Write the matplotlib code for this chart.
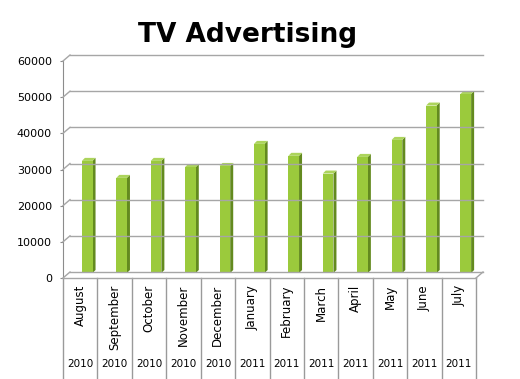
import numpy as np
import matplotlib
matplotlib.use("Agg")
import matplotlib.pyplot as plt
from matplotlib.patches import Polygon
from matplotlib.transforms import IdentityTransform

months = ["August", "September", "October", "November", "December", "January",
          "February", "March", "April", "May", "June", "July"]
years = ["2010", "2010", "2010", "2010", "2010", "2011",
         "2011", "2011", "2011", "2011", "2011", "2011"]
spend = [31000, 26300, 31000, 29300, 29600, 35700,
         32400, 27500, 32100, 36800, 46300, 49500]
yticks = [0, 10000, 20000, 30000, 40000, 50000, 60000]

W, H = 520, 379
fig = plt.figure(figsize=(W / 100, H / 100), dpi=100, facecolor="white")
ax = fig.add_axes([63 / W, (H - 278) / H, (476 - 63) / W, (278 - 61) / H])
ax.set_xlim(0, len(months))
ax.set_ylim(0, 60000)
ax.set_facecolor("none")
for s in ["top", "right", "bottom"]:
    ax.spines[s].set_visible(False)
ax.spines["left"].set_color("#8c8c8c")
ax.set_xticks([])
ax.set_yticks(yticks)
ax.set_yticklabels([str(v) for v in yticks], fontsize=8, family="DejaVu Sans")
ax.tick_params(axis="y", length=2.5, color="#8c8c8c", pad=5.5)

fig.canvas.draw()
T = ax.transData.transform
grid_c = "#a6a6a6"
back = np.array([7, 6])  # depth of the back wall, in pixels


def disp_poly(pts, **kw):
    p = Polygon(pts, closed=True, transform=IdentityTransform(), **kw)
    fig.add_artist(p)


def disp_line(p0, p1, **kw):
    fig.add_artist(plt.Line2D([p0[0], p1[0]], [p0[1], p1[1]],
                              transform=IdentityTransform(), **kw))


n = len(months)
# back wall gridlines + left wall diagonals
for v in yticks:
    a = T((0, v))
    b = T((n, v))
    disp_line(a, a + back, color=grid_c, lw=1)
    disp_line(a + back, b + back, color=grid_c, lw=1)
# floor
f0, f1 = T((0, 0)), T((n, 0))
disp_line(f0, f1, color=grid_c, lw=1)
disp_line(f1, f1 + back, color=grid_c, lw=1)

# bars (3D look)
bw = 0.31
off = np.array([7, 5])
side = np.array([3, 3])
for i, v in enumerate(spend):
    x0, x1 = i + 0.5 - bw / 2, i + 0.5 + bw / 2
    bl, br = T((x0, 0)) + off, T((x1, 0)) + off
    tl, tr = T((x0, v)) + off, T((x1, v)) + off
    disp_poly([br, tr, tr + side, br + side], facecolor="#638a1f", edgecolor="none")
    disp_poly([tl, tr, tr + side, tl + side], facecolor="#acd45c", edgecolor="none")
    disp_poly([bl, br, tr, tl], facecolor="#9bca3c", edgecolor="none")

# category boxes below the floor
xt = ax.get_xaxis_transform()
bottom = -(379 - 278) / (278 - 61)
for k in range(n + 1):
    ax.plot([k, k], [0, bottom], transform=xt, color="#9a9a9a", lw=1, clip_on=False)
for i, (m, yr) in enumerate(zip(months, years)):
    ax.text(i + 0.5, -0.032, m, transform=xt, rotation=90, ha="center", va="top",
            fontsize=8.5, family="DejaVu Sans")
    ax.text(i + 0.5, -0.395, yr, transform=xt, ha="center", va="center",
            fontsize=7.5, family="DejaVu Sans")

fig.text(247.5 / W, 1 - 35 / H, "TV Advertising", ha="center", va="center",
         fontsize=19, fontweight="bold", family="DejaVu Sans")

fig.savefig("out.png", dpi=100, facecolor="white")
